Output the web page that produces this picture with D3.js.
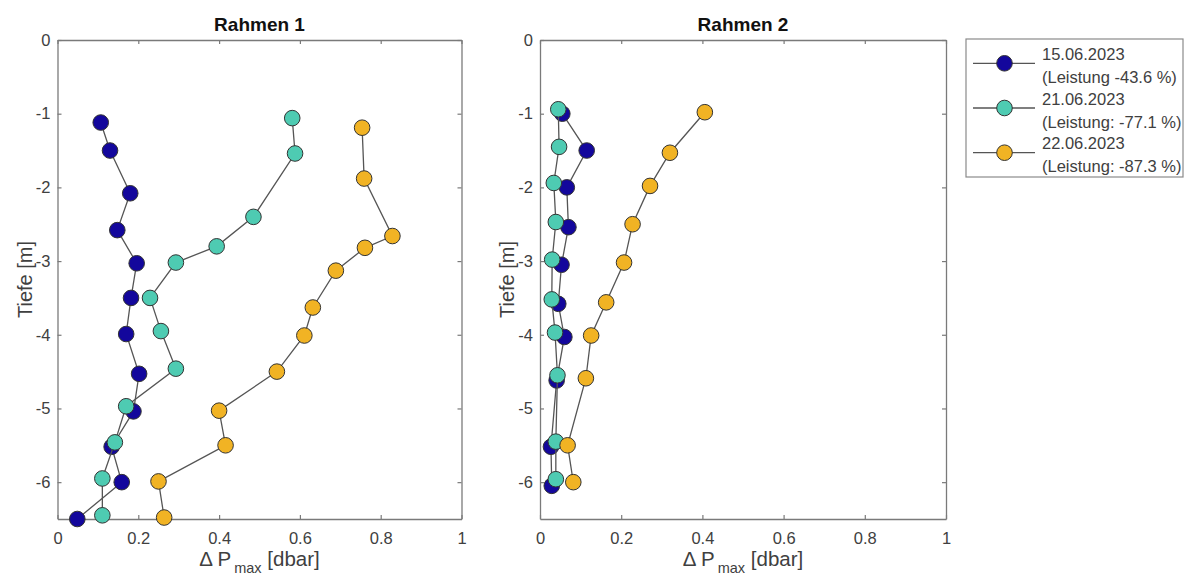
<!DOCTYPE html>
<html><head><meta charset="utf-8">
<script src="https://cdn.jsdelivr.net/npm/d3@7"></script>
<style>body{margin:0;background:#fff;} svg{display:block;font-family:"Liberation Sans",Arial,sans-serif;}</style>
</head><body>
<svg id="c" width="1189" height="576"></svg>
<script>
const panelTitles = ["Rahmen 1", "Rahmen 2"];
const seriesNames = ["15.06.2023", "21.06.2023", "22.06.2023"];
const seriesSub = ["(Leistung -43.6 %)", "(Leistung: -77.1 %)", "(Leistung: -87.3 %)"];
const seriesColors = ["#13079c", "#4ecbb2", "#f1b324"];
const xTicks = [0, 0.2, 0.4, 0.6, 0.8, 1];
const yTicks = [0, -1, -2, -3, -4, -5, -6];

// Rahmen 1
const r1_s1_x = [0.107, 0.130, 0.180, 0.148, 0.196, 0.182, 0.170, 0.202, 0.188, 0.134, 0.159, 0.049];
const r1_s1_y = [-1.12, -1.50, -2.08, -2.58, -3.03, -3.50, -3.99, -4.53, -5.04, -5.52, -6.00, -6.50];
const r1_s2_x = [0.581, 0.588, 0.485, 0.394, 0.293, 0.229, 0.256, 0.293, 0.170, 0.142, 0.111, 0.111];
const r1_s2_y = [-1.06, -1.54, -2.40, -2.80, -3.02, -3.50, -3.95, -4.46, -4.97, -5.46, -5.95, -6.45];
const r1_s3_x = [0.754, 0.759, 0.829, 0.761, 0.689, 0.632, 0.611, 0.543, 0.400, 0.416, 0.250, 0.264];
const r1_s3_y = [-1.19, -1.88, -2.66, -2.82, -3.13, -3.63, -4.01, -4.50, -5.03, -5.50, -5.99, -6.48];
// Rahmen 2
const r2_s1_x = [0.055, 0.115, 0.066, 0.070, 0.053, 0.045, 0.060, 0.041, 0.027, 0.029];
const r2_s1_y = [-1.00, -1.50, -2.00, -2.54, -3.05, -3.58, -4.03, -4.62, -5.52, -6.05];
const r2_s2_x = [0.045, 0.047, 0.034, 0.039, 0.030, 0.029, 0.037, 0.043, 0.039, 0.039];
const r2_s2_y = [-0.94, -1.45, -1.94, -2.47, -2.98, -3.52, -3.97, -4.55, -5.45, -5.96];
const r2_s3_x = [0.406, 0.320, 0.271, 0.228, 0.207, 0.163, 0.126, 0.113, 0.068, 0.082];
const r2_s3_y = [-0.98, -1.53, -1.98, -2.50, -3.02, -3.56, -4.01, -4.59, -5.50, -6.00];

const panels = [
  {title: panelTitles[0], series: [[r1_s1_x, r1_s1_y], [r1_s2_x, r1_s2_y], [r1_s3_x, r1_s3_y]], x0: 57.5, x1: 461.5},
  {title: panelTitles[1], series: [[r2_s1_x, r2_s1_y], [r2_s2_x, r2_s2_y], [r2_s3_x, r2_s3_y]], x0: 540, x1: 946}
];
const yTop = 40, yBot = 519;
const svg = d3.select("#c");
const axisCol = "#7a7a7a", textCol = "#404040";
const fmt = d => String(d);

panels.forEach(p => {
  const x = d3.scaleLinear().domain([0, 1]).range([p.x0, p.x1]);
  const y = d3.scaleLinear().domain([-6.5, 0]).range([yBot, yTop]);
  const g = svg.append("g");
  const style = sel => {
    sel.attr("font-size", null);
    sel.select(".domain").attr("stroke", axisCol).attr("stroke-width", 1.3);
    sel.selectAll(".tick line").attr("stroke", axisCol).attr("stroke-width", 1.2);
    sel.selectAll(".tick text").attr("fill", textCol).style("font-size", "16.5px").style("font-family", "Liberation Sans, Arial, sans-serif");
  };
  g.append("g").attr("transform", `translate(0,${yBot})`)
    .call(d3.axisBottom(x).tickValues(xTicks).tickFormat(fmt).tickSize(-4).tickPadding(13).tickSizeOuter(0)).call(style);
  g.append("g").attr("transform", `translate(0,${yTop})`)
    .call(d3.axisTop(x).tickValues(xTicks).tickSize(-4).tickFormat("").tickSizeOuter(0)).call(style);
  g.append("g").attr("transform", `translate(${p.x0},0)`)
    .call(d3.axisLeft(y).tickValues(yTicks).tickFormat(fmt).tickSize(-4).tickPadding(7).tickSizeOuter(0)).call(style);
  g.append("g").attr("transform", `translate(${p.x1},0)`)
    .call(d3.axisRight(y).tickValues(yTicks).tickSize(-4).tickFormat("").tickSizeOuter(0)).call(style);

  p.series.forEach((s, i) => {
    const pts = s[0].map((v, k) => [v, s[1][k]]);
    g.append("path").datum(pts)
      .attr("fill", "none").attr("stroke", "#555").attr("stroke-width", 1.3)
      .attr("d", d3.line().x(d => x(d[0])).y(d => y(d[1])));
    g.selectAll(null).data(pts).enter().append("circle")
      .attr("cx", d => x(d[0])).attr("cy", d => y(d[1])).attr("r", 7.8)
      .attr("fill", seriesColors[i]).attr("stroke", "#333").attr("stroke-width", 1);
  });

  const cx = (p.x0 + p.x1) / 2;
  g.append("text").attr("x", cx).attr("y", 31).attr("text-anchor", "middle")
    .style("font-weight", "bold").style("font-size", "19px").attr("fill", "#111").text(p.title);
  const xl = g.append("text").attr("x", cx).attr("y", 566).attr("text-anchor", "middle")
    .style("font-size", "20.5px").attr("fill", textCol);
  xl.append("tspan").text("Δ P");
  xl.append("tspan").attr("dx", 3).attr("dy", 7).style("font-size", "14.5px").text("max");
  xl.append("tspan").attr("dy", -7).text(" [dbar]");
  g.append("text").attr("transform", `translate(${p.x0 - 26},${(yTop + yBot) / 2}) rotate(-90)`)
    .attr("text-anchor", "middle").style("font-size", "20px").attr("fill", textCol).text("Tiefe [m]");
});

// Legend
const lg = svg.append("g");
lg.append("rect").attr("x", 966).attr("y", 39).attr("width", 217).attr("height", 138)
  .attr("fill", "#fff").attr("stroke", "#8a8a8a").attr("stroke-width", 1.2);
seriesNames.forEach((n, i) => {
  const cy = 63.3 + i * 44.7;
  lg.append("line").attr("x1", 973).attr("x2", 1035).attr("y1", cy).attr("y2", cy).attr("stroke", "#555").attr("stroke-width", 1.3);
  lg.append("circle").attr("cx", 1004.5).attr("cy", cy).attr("r", 7.8).attr("fill", seriesColors[i]).attr("stroke", "#333").attr("stroke-width", 1);
  lg.append("text").attr("x", 1042).attr("y", cy - 3.5).style("font-size", "16.5px").attr("fill", textCol).text(n);
  lg.append("text").attr("x", 1042).attr("y", cy + 19.5).style("font-size", "16.5px").attr("fill", textCol).text(seriesSub[i]);
});
</script>
</body></html>
